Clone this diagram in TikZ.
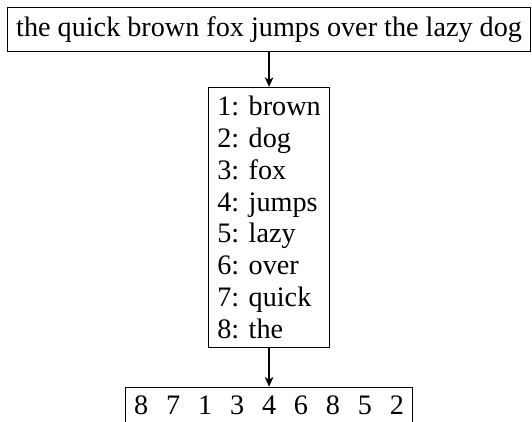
\documentclass[tikz,border=0pt]{standalone}
\usepackage{fontspec}
\usetikzlibrary{arrows.meta}
\setmainfont{Liberation Serif}
\begin{document}
\begin{tikzpicture}[x=1pt,y=1pt,
  box/.style={draw, line width=0.4pt, inner sep=3.33pt, font=\fontsize{10.57}{11.9}\selectfont},
  conn/.style={-{Stealth[length=3.6pt,width=3.2pt,inset=1pt]}, line width=0.6pt}]
\useasboundingbox (0,0) rectangle (199.5,-157.9);
\node[box, anchor=north] (sent) at (100.9,-2.6) {the quick brown fox jumps over the lazy dog};
\node[box, anchor=north, align=left] (dict) at (100.9,-32.6) {1: brown\\2: dog\\3: fox\\4: jumps\\5: lazy\\6: over\\7: quick\\8: the};
\node[box, anchor=north] (code) at (100.9,-145) {8\hskip6.7pt 7\hskip6.7pt 1\hskip6.7pt 3\hskip6.7pt 4\hskip6.7pt 6\hskip6.7pt 8\hskip6.7pt 5\hskip6.7pt 2};
\draw[conn] (sent) -- (dict);
\draw[conn] (dict) -- (code);
\end{tikzpicture}
\end{document}
